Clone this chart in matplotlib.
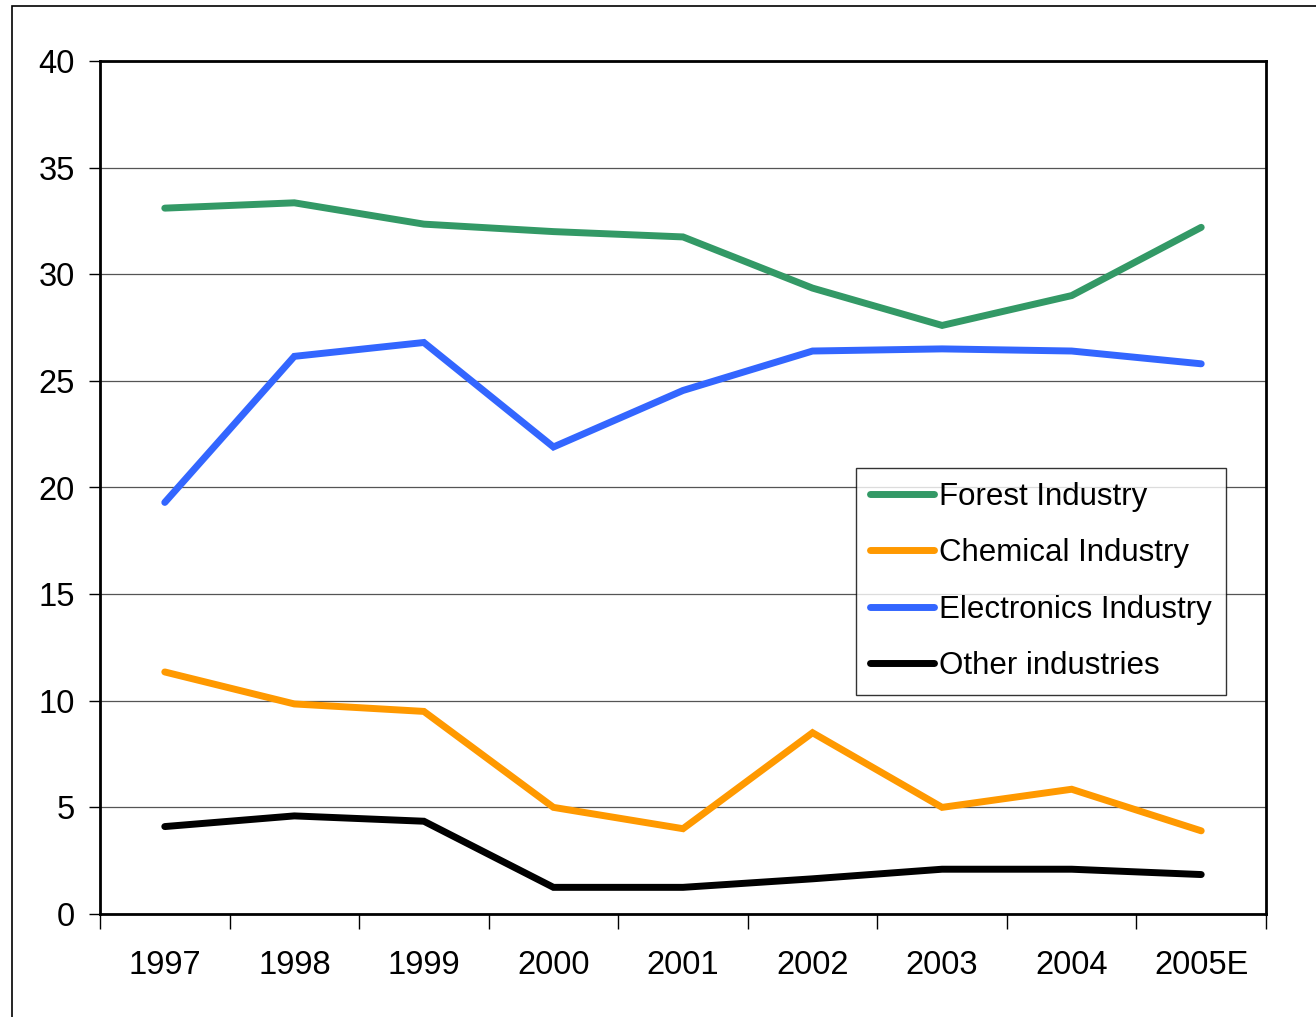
import matplotlib.pyplot as plt
from matplotlib.patches import Rectangle

plt.rcParams['font.family'] = ['Liberation Sans', 'DejaVu Sans']

years = ['1997', '1998', '1999', '2000', '2001', '2002', '2003', '2004', '2005E']
forest = [33.1, 33.35, 32.35, 32.0, 31.75, 29.35, 27.6, 29.0, 32.2]
chemical = [11.35, 9.85, 9.5, 5.0, 4.0, 8.5, 5.0, 5.85, 3.9]
electronics = [19.3, 26.15, 26.8, 21.9, 24.55, 26.4, 26.5, 26.4, 25.8]
other = [4.1, 4.6, 4.35, 1.25, 1.25, 1.65, 2.1, 2.1, 1.85]

series = [
    ('Forest Industry', forest, '#339966'),
    ('Chemical Industry', chemical, '#FF9900'),
    ('Electronics Industry', electronics, '#3366FF'),
    ('Other industries', other, '#000000'),
]

fig = plt.figure(figsize=(13.16, 10.17), dpi=100)
# outer chart border
fig.patches.append(Rectangle((12 / 1316, -0.01), 1.02, 1 - 6 / 1017 + 0.01,
                             transform=fig.transFigure, fill=False,
                             edgecolor='black', linewidth=1.2))

ax = fig.add_axes([100 / 1316, 1 - 914 / 1017, 1166 / 1316, 853 / 1017])

x = list(range(len(years)))
for name, vals, color in series:
    ax.plot(x, vals, color=color, linewidth=5, label=name,
            solid_capstyle='round', solid_joinstyle='miter')

ax.set_xlim(-0.5, len(years) - 0.5)
ax.set_ylim(0, 40)
ax.set_yticks(range(0, 41, 5))
ax.set_xticks([i + 0.5 for i in range(-1, len(years))], minor=False)
ax.set_xticklabels([])
ax.set_xticks(x, minor=True)
ax.set_xticklabels(years, minor=True)
ax.tick_params(axis='x', which='major', direction='out', length=11, width=1)
ax.tick_params(axis='x', which='minor', length=0, pad=26, labelsize=23.5)
ax.tick_params(axis='y', direction='out', length=8, width=1, pad=10, labelsize=23.5)

ax.grid(axis='y', color='#555555', linewidth=0.9)
ax.set_axisbelow(True)
for sp in ax.spines.values():
    sp.set_linewidth(2)
    sp.set_color('black')

leg = ax.legend(loc='upper left', bbox_to_anchor=((856 - 100) / 1166, (914 - 468) / 853),
                fontsize=22.5, frameon=True, fancybox=False, edgecolor='black',
                handlelength=2.05, handletextpad=0.15, borderpad=0.45,
                labelspacing=0.84, borderaxespad=0)
leg.get_frame().set_linewidth(1)

plt.savefig('out.png', dpi=100)
